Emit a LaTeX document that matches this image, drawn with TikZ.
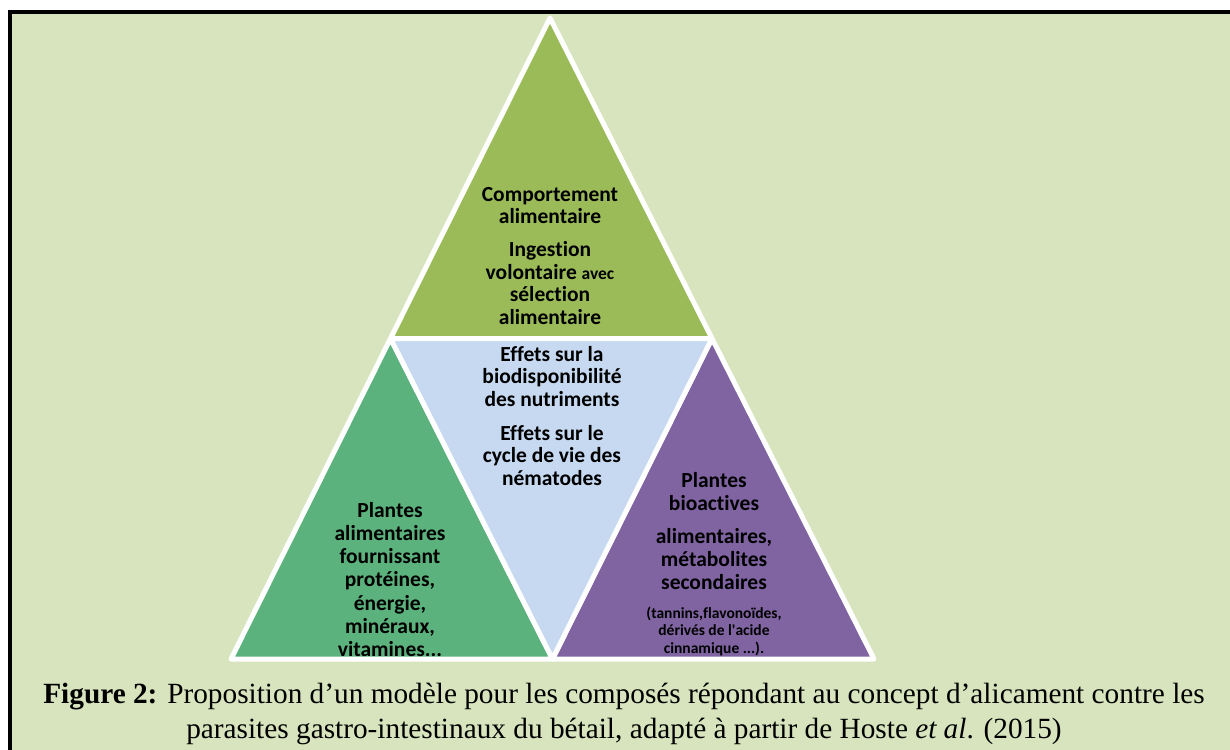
\documentclass[tikz,border=0pt]{standalone}
\usepackage{fontspec}
\usetikzlibrary{calc}
\setmainfont{Carlito}[Ligatures={TeX,NoCommon}]
\newfontfamily\capfont{Liberation Serif}
\definecolor{bgc}{HTML}{D7E4BD}
\definecolor{topc}{HTML}{9BBB59}
\definecolor{bluec}{HTML}{C6D9F1}
\definecolor{greenc}{HTML}{5BB27C}
\definecolor{purplec}{HTML}{8064A2}
\begin{document}
\begin{tikzpicture}[x=1pt,y=-1pt,
  tri/.style={draw=white, line width=5pt, line join=round},
  lbl/.style={inner sep=0pt, anchor=base, text=black},
  big/.style={font=\fontsize{21.5}{22.5}\selectfont\bfseries},
  captxt/.style={inner sep=0pt, anchor=base, font=\capfont\fontsize{29.3}{34}\selectfont}]
\useasboundingbox (0,0) rectangle (1230,749);
\clip (0,0) rectangle (1230,749);
\fill[white] (0,0) rectangle (1230,749);
\fill[bgc] (10,12) rectangle (1250,770);
\draw[black, line width=4pt] (10,770) -- (10,12) -- (1250,12);
% triangle vertices
\coordinate (A) at (550,18);
\coordinate (B) at (231,659);
\coordinate (C) at (874,659);
\coordinate (AB) at ($(A)!0.5!(B)$);
\coordinate (AC) at ($(A)!0.5!(C)$);
\coordinate (BC) at ($(B)!0.5!(C)$);
\filldraw[tri, fill=topc] (A) -- (AB) -- (AC) -- cycle;
\filldraw[tri, fill=greenc] (B) -- (BC) -- (AB) -- cycle;
\filldraw[tri, fill=purplec] (C) -- (AC) -- (BC) -- cycle;
\filldraw[tri, fill=bluec] (AB) -- (AC) -- (BC) -- cycle;
% texts
\node[lbl, big] (ttop) at (550,201) {\begin{tabular}[t]{@{}c@{}}Comportement\\alimentaire\\[10.5pt]Ingestion\\volontaire {\fontsize{17.5}{22.5}\selectfont avec}\\sélection\\alimentaire\end{tabular}};
\node[lbl, big] (tmid) at (552,361) {\begin{tabular}[t]{@{}c@{}}Effets sur la\\biodisponibilité\\des nutriments\\[11.5pt]Effets sur le\\cycle de vie des\\nématodes\end{tabular}};
\node[lbl, font=\fontsize{21.5}{23.3}\selectfont\bfseries] (tleft) at (390,517) {\begin{tabular}[t]{@{}c@{}}Plantes\\alimentaires\\fournissant\\protéines,\\énergie,\\minéraux,\\vitamines...\end{tabular}};
\node[lbl, font=\fontsize{21.5}{23}\selectfont\bfseries] (tright) at (714,487) {\begin{tabular}[t]{@{}c@{}}Plantes\\bioactives\\[10pt]alimentaires,\\métabolites\\secondaires\end{tabular}};
\node[lbl, font=\fontsize{15.5}{17.5}\selectfont\bfseries] (tsmall) at (714,618) {\begin{tabular}[t]{@{}c@{}}(tannins,flavonoïdes,\\dérivés de l\textquotesingle acide\\cinnamique ...).\end{tabular}};
% caption
\node[captxt] (cap1) at (624,703) {\textbf{Figure 2:} Proposition d’un modèle pour les composés répondant au concept d’alicament contre les};
\node[captxt] (cap2) at (624,738) {parasites gastro-intestinaux du bétail, adapté à partir de Hoste \textit{et al}. (2015)};
\end{tikzpicture}
\end{document}
